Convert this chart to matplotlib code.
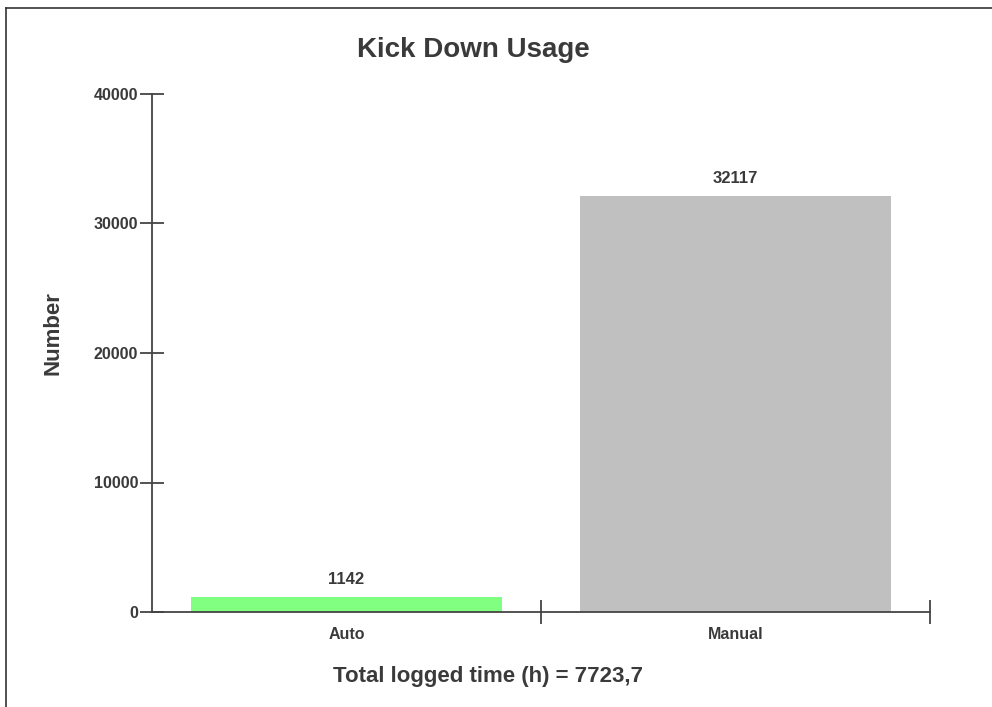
import matplotlib
matplotlib.use('Agg')
import matplotlib.pyplot as plt
from matplotlib.lines import Line2D
import numpy as np

categories = ['Auto', 'Manual']
counts = [1142, 32117]
bar_colors = ['#80ff80', '#c0c0c0']
y_ticks = [0, 10000, 20000, 30000, 40000]
total_hours = '7723,7'

plt.rcParams['font.family'] = ['Liberation Sans', 'DejaVu Sans']
plt.rcParams['font.weight'] = 'bold'
txt = '#3a3a3a'
axc = '#444444'

fig = plt.figure(figsize=(9.92, 7.07), dpi=100)
ax = fig.add_axes([152/992, 1 - 612/707, (930 - 152)/992, (612 - 94)/707])

x = np.arange(len(categories))
ax.bar(x, counts, width=0.8, color=bar_colors)
for xi, v in zip(x, counts):
    ax.annotate(str(v), (xi, v), xytext=(0, 7), textcoords='offset points',
                ha='center', va='bottom', fontsize=12, fontweight='bold', color=txt)

ax.set_xlim(-0.5, len(categories) - 0.5)
ax.set_ylim(0, 40000)
ax.set_yticks(y_ticks)
ax.set_yticklabels([str(t) for t in y_ticks])

# category labels on minor ticks, boundary ticks as major
ax.set_xticks(x + 0.5)
ax.set_xticklabels([])
ax.set_xticks(x, minor=True)
ax.set_xticklabels(categories, minor=True)
ax.tick_params(axis='x', which='major', direction='inout', length=17, width=1.3, color=axc)
ax.tick_params(axis='x', which='minor', length=0, pad=10.5, labelsize=11.5, labelcolor=txt)
ax.tick_params(axis='y', direction='inout', length=17, width=1.3, color=axc,
               pad=1.5, labelsize=11.5, labelcolor=txt)

for s in ['top', 'right']:
    ax.spines[s].set_visible(False)
for s in ['left', 'bottom']:
    ax.spines[s].set_color(axc)
    ax.spines[s].set_linewidth(1.3)

ax.set_ylabel('Number', fontsize=16, fontweight='bold', color=txt)
ax.yaxis.set_label_coords((63 - 152) / 778, (612 - 333) / 518)

fig.text(473.5/992, 1 - 57/707, 'Kick Down Usage', ha='center', va='baseline',
         fontsize=20, fontweight='bold', color=txt)
fig.text(488/992, 1 - 682/707, 'Total logged time (h) = ' + total_hours,
         ha='center', va='baseline', fontsize=16, fontweight='bold', color=txt)

# frame lines at top and left
fig.add_artist(Line2D([6/992, 1], [1 - 8/707, 1 - 8/707], transform=fig.transFigure,
                      color='#333333', linewidth=1.2))
fig.add_artist(Line2D([6/992, 6/992], [0, 1 - 8/707], transform=fig.transFigure,
                      color='#333333', linewidth=1.2))

fig.savefig('out.png', dpi=100)
